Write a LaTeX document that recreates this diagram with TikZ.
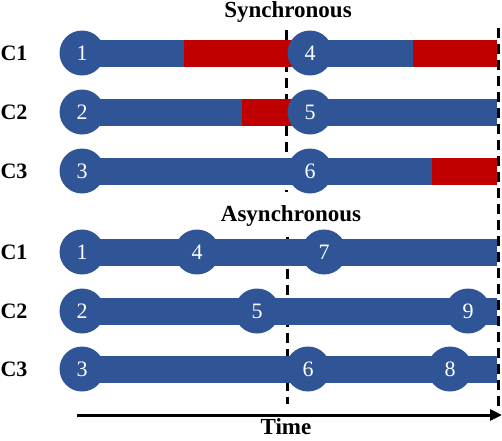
\documentclass[tikz,border=0pt]{standalone}
\usepackage{fontspec}
\setmainfont{Liberation Serif}
\usetikzlibrary{arrows.meta}
\definecolor{barblue}{HTML}{2F5597}
\definecolor{barred}{HTML}{C00000}
\begin{document}
\begin{tikzpicture}[x=1pt,y=-1pt,
  ev/.style={circle,fill=barblue,minimum size=45pt,inner sep=0pt,text=white,font=\fontsize{22}{22}\selectfont},
  bbar/.style={line width=27pt,barblue},
  rbar/.style={line width=27pt,barred},
  lbl/.style={font=\bfseries\fontsize{22}{22}\selectfont},
  ttl/.style={font=\bfseries\fontsize{23}{23}\selectfont,anchor=base},
  dline/.style={line width=3pt,dash pattern=on 10pt off 6pt}]
\useasboundingbox (0,0) rectangle (502,440);

% dashed time lines
\coordinate (stop) at (286,30);
\coordinate (sbot) at (286,192);
\coordinate (rtop) at (498,28);
\coordinate (rbot) at (498,408);
\coordinate (atop) at (287,237);
\coordinate (abot) at (287,404);
\draw[dline] (stop) -- (sbot);
\draw[dline] (atop) -- (abot);
\draw[dline] (rtop) -- (rbot);

% titles
\node[ttl] (sync) at (288,17) {Synchronous};
\node[ttl] (async) at (291,221) {Asynchronous};
\node[ttl] (time) at (286,434) {Time};

% row labels
\node[lbl] (l1) at (14,53) {C1};
\node[lbl] (l2) at (14,112) {C2};
\node[lbl] (l3) at (14,171) {C3};
\node[lbl] (l4) at (14,252) {C1};
\node[lbl] (l5) at (14,311) {C2};
\node[lbl] (l6) at (14,369) {C3};

% synchronous bars
\coordinate (s1a) at (184,53);
\coordinate (s1b) at (413,53);
\coordinate (s1e) at (497,53);
\coordinate (s2a) at (242,112);
\coordinate (s2e) at (497,112);
\coordinate (s3a) at (432,171);
\coordinate (s3e) at (497,171);
\coordinate (n1) at (82,53);
\coordinate (n2) at (82,112);
\coordinate (n3) at (82,171);
\coordinate (n4) at (310,53);
\coordinate (n5) at (310,112);
\coordinate (n6) at (310,171);
\draw[bbar] (n1) -- (s1a);
\draw[rbar] (s1a) -- (n4);
\draw[bbar] (n4) -- (s1b);
\draw[rbar] (s1b) -- (s1e);
\draw[bbar] (n2) -- (s2a);
\draw[rbar] (s2a) -- (n5);
\draw[bbar] (n5) -- (s2e);
\draw[bbar] (n3) -- (s3a);
\draw[rbar] (s3a) -- (s3e);
\node[ev] (c1) at (n1) {1};
\node[ev] (c2) at (n2) {2};
\node[ev] (c3) at (n3) {3};
\node[ev] (c4) at (n4) {4};
\node[ev] (c5) at (n5) {5};
\node[ev] (c6) at (n6) {6};

% asynchronous bars
\coordinate (m1) at (82,252);
\coordinate (m2) at (82,311);
\coordinate (m3) at (82,369);
\coordinate (a1e) at (497,252);
\coordinate (a2e) at (497,311);
\coordinate (a3e) at (497,369);
\draw[bbar] (m1) -- (a1e);
\draw[bbar] (m2) -- (a2e);
\draw[bbar] (m3) -- (a3e);
\node[ev] (d1) at (m1) {1};
\node[ev] (d4) at (197,252) {4};
\node[ev] (d7) at (324,252) {7};
\node[ev] (d2) at (m2) {2};
\node[ev] (d5) at (257,311) {5};
\node[ev] (d9) at (468,311) {9};
\node[ev] (d3) at (m3) {3};
\node[ev] (d6) at (308,369) {6};
\node[ev] (d8) at (450,369) {8};

% time axis
\coordinate (t0) at (77,415);
\coordinate (t1) at (502,415);
\draw[line width=3pt,-{Triangle[length=12pt,width=11pt]}] (t0) -- (t1);
\end{tikzpicture}
\end{document}
